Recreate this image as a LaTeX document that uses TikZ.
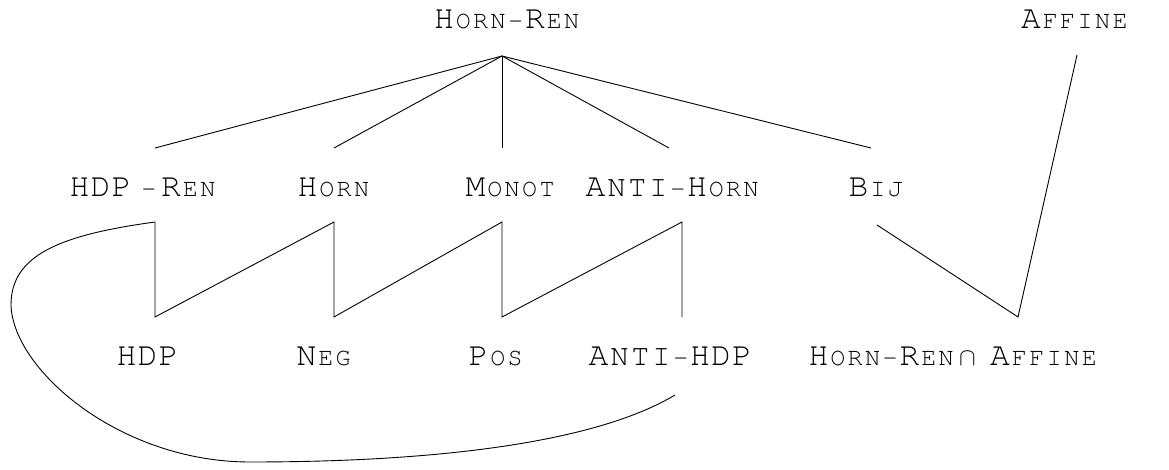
\documentclass[tikz,border=0pt]{standalone}
\usepackage[T1]{fontenc}
\newcommand\crf{\usefont{T1}{pcr}{m}{n}}
\newcommand\Lg[1]{\makebox[21pt]{\fontsize{33}{33}\crf #1}}
\newcommand\Md[1]{\makebox[21pt]{\fontsize{30}{30}\crf #1}}
\makeatletter
\newcommand\Sm[1]{\@tfor\sm@c:=#1\do{\makebox[17.5pt]{\fontsize{25}{25}\crf\sm@c}}}
\newcommand\Lgw[1]{\@tfor\lg@c:=#1\do{\Lg{\lg@c}}}
\newcommand\Mdw[1]{\@tfor\md@c:=#1\do{\Md{\md@c}}}
\makeatother
\begin{document}
\begin{tikzpicture}[x=1pt,y=-1pt,
  lbl/.style={inner sep=0pt,outer sep=0pt,anchor=base west},
  edge/.style={line width=0.9pt,line join=miter}]
\useasboundingbox (0,0) rectangle (1169,470);
% labels
\node[lbl,anchor=base] (hornren) at (507,29) {\Lg{H}\Sm{ORN-}\Lg{R}\Sm{EN}};
\node[lbl,anchor=base east] (affine) at (1129,29) {\Lg{A}\Sm{FFINE}};
\node[lbl] (hdpren) at (69,197) {\Lgw{HDP}\hspace{8pt}\Sm{-}\hspace{3pt}\Lg{R}\Sm{EN}};
\node[lbl] (horn) at (297,197) {\Lg{H}\Sm{ORN}};
\node[lbl] (monot) at (465,197) {\Lg{M}\Sm{ONOT}};
\node[lbl] (antihorn) at (585,197) {\Lg{A}\Mdw{NTI}\Sm{-}\Lg{H}\Sm{ORN}};
\node[lbl] (bij) at (848,197) {\Lg{B}\Sm{IJ}};
\node[lbl] (hdp) at (116,365) {\Lgw{HDP}};
\node[lbl] (neg) at (296,365) {\Lg{N}\Sm{EG}};
\node[lbl] (pos) at (468,365) {\Lg{P}\Sm{OS}};
\node[lbl] (antihdp) at (588,365) {\Lg{A}\Mdw{NTI}\Sm{-}\Lgw{HDP}};
\node[lbl] (meet) at (808,365) {\Lg{H}\Sm{ORN-}\Lg{R}\Sm{EN}\hspace{4pt}{\fontsize{38}{38}\selectfont$\cap$}\hspace{14pt}\Lg{A}\Sm{FFINE}};
% attachment points
\coordinate (apex) at (502,56);
\coordinate (c1) at (155,148);
\coordinate (c2) at (334,148);
\coordinate (c3) at (502,148);
\coordinate (c4) at (669,148);
\coordinate (c5) at (871,148);
\coordinate (t1) at (155,222);
\coordinate (t2) at (334,222);
\coordinate (t3) at (502,222);
\coordinate (t4) at (682,222);
\coordinate (b1) at (155,317);
\coordinate (b2) at (334,317);
\coordinate (b3) at (502,317);
\coordinate (b4) at (682,317);
\coordinate (bt) at (877,225);
\coordinate (mt) at (1018,317);
\coordinate (at) at (1077,55);
\coordinate (ae) at (675,395);
% edges
\foreach \c in {c1,c2,c3,c4,c5} \draw[edge] (apex) -- (\c);
\draw[edge] (t1) -- (b1) -- (t2) -- (b2) -- (t3) -- (b3) -- (t4) -- (b4);
\draw[edge] (bt) -- (mt) -- (at);
\draw[edge] (t1) .. controls (60,235) and (11,255) .. (11,305)
  .. controls (13,370) and (120,462) .. (250,462)
  .. controls (450,462) and (600,440) .. (ae);
\end{tikzpicture}
\end{document}
